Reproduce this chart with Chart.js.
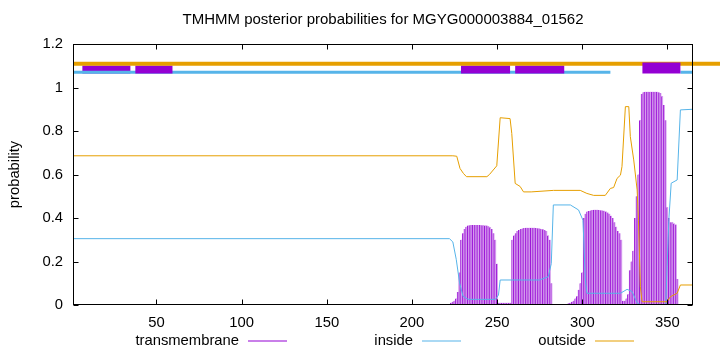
<!DOCTYPE html>
<html>
<head>
<meta charset="utf-8">
<style>
  html, body { margin: 0; padding: 0; background: #fff; }
  #wrap { width: 720px; height: 352px; }
</style>
<script src="https://cdn.jsdelivr.net/npm/chart.js@4.4.1/dist/chart.umd.min.js"></script>
</head>
<body>
<div id="wrap"><canvas id="tmChart" width="720" height="352"></canvas></div>
<script>
const TITLE = 'TMHMM posterior probabilities for MGYG000003884_01562';
const X_TICKS = [50, 100, 150, 200, 250, 300, 350];
const Y_TICKS = [0, 0.2, 0.4, 0.6, 0.8, 1, 1.2];

// transmembrane posterior, one value per residue starting at TM_FIRST
const TM_FIRST = 222;
const TM_PROB = [
  0.005, 0.01, 0.015, 0.02, 0.03, 0.06, 0.15, 0.30, 0.33, 0.35,
  0.36, 0.365, 0.367, 0.368, 0.368, 0.368, 0.368, 0.368, 0.368, 0.367,
  0.367, 0.366, 0.365, 0.362, 0.358, 0.35, 0.33, 0.30, 0.19, 0.01,
  0.01, 0.01, 0.01, 0.01, 0.01, 0.01, 0.01, 0.30, 0.32, 0.33,
  0.34, 0.345, 0.35, 0.352, 0.354, 0.355, 0.355, 0.355, 0.355, 0.355,
  0.355, 0.354, 0.353, 0.352, 0.35, 0.348, 0.345, 0.34, 0.32, 0.30,
  0.10, 0.005, 0.005, 0.005, 0.005, 0.005, 0.005, 0.005, 0.005, 0.005,
  0.008, 0.01, 0.015, 0.02, 0.03, 0.04, 0.07, 0.10, 0.15, 0.40,
  0.42, 0.43, 0.432, 0.435, 0.437, 0.438, 0.438, 0.438, 0.437, 0.436,
  0.435, 0.433, 0.43, 0.425, 0.42, 0.41, 0.40, 0.38, 0.36, 0.34,
  0.33, 0.30, 0.02, 0.02, 0.03, 0.05, 0.16, 0.20, 0.25, 0.40,
  0.50, 0.60, 0.85, 0.97, 0.978, 0.98, 0.98, 0.98, 0.98, 0.98,
  0.98, 0.98, 0.98, 0.978, 0.975, 0.96, 0.92, 0.85, 0.45, 0.40,
  0.38, 0.38, 0.375, 0.37, 0.12
];

const INSIDE_X = [1, 222, 224, 226, 228, 230, 233, 249, 250.8, 251.8, 275, 280, 281.8, 283, 293, 297.8, 300.4, 301.8, 302.7, 322.4, 326.3, 329.2, 332.2, 334, 349, 349.8, 350.8, 352.2, 355.7, 357.6, 365];
const INSIDE_P = [0.305, 0.305, 0.29, 0.21, 0.10, 0.04, 0.026, 0.026, 0.046, 0.115, 0.115, 0.13, 0.19, 0.46, 0.46, 0.437, 0.39, 0.115, 0.054, 0.054, 0.072, 0.062, 0.01, 0.002, 0.002, 0.176, 0.39, 0.56, 0.575, 0.897, 0.9];

const OUTSIDE_X = [1, 224, 226.3, 228.2, 230.2, 232, 244, 245.5, 249.8, 251.8, 257.6, 258.6, 260.6, 263.5, 265.5, 270, 283.1, 298.8, 302.7, 306.7, 313.5, 316.5, 318.4, 320.4, 322.4, 323.3, 325.3, 327.3, 328.2, 330.2, 332.2, 333, 334.1, 335.1, 349.8, 351.7, 355.7, 357.6, 365];
const OUTSIDE_P = [0.686, 0.686, 0.684, 0.628, 0.605, 0.59, 0.59, 0.60, 0.64, 0.861, 0.857, 0.789, 0.559, 0.545, 0.52, 0.52, 0.527, 0.527, 0.513, 0.504, 0.504, 0.536, 0.54, 0.582, 0.597, 0.636, 0.912, 0.912, 0.774, 0.667, 0.529, 0.39, 0.084, 0.015, 0.015, 0.038, 0.054, 0.092, 0.092];

// predicted topology strip above the curves
const OUT_SEGMENTS = [[1, 381]];
const IN_SEGMENTS = [[1, 316.5], [357.6, 365]];
const TM_SEGMENTS = [[6.5, 34.7], [37.6, 59.4], [228.8, 257.6], [260.6, 289.4], [335.3, 357.6]];
const OUT_LEVEL = 1.109;
const IN_LEVEL = 1.07;
const TM_LEVELS = [1.0825, 1.0825, 1.0825, 1.0825, 1.0895];

const PURPLE = '#9400d3';
const PURPLE_LIGHT = '#d7a3ef';
const BLUE = '#56b4e9';
const ORANGE = '#e69f00';
const FONT = 'Liberation Sans, Arial, sans-serif';
const FSIZE = 14.8;

function segPoints(segs, level) {
  const pts = [];
  segs.forEach((s, i) => {
    if (i > 0) pts.push({ x: (segs[i - 1][1] + s[0]) / 2, y: null });
    pts.push({ x: s[0], y: level }, { x: s[1], y: level });
  });
  return pts;
}

function curve(xs, ps) {
  return xs.map((x, i) => ({ x: x, y: ps[i] }));
}

function strip(data, color, width, order, clip) {
  return {
    type: 'line', data, borderColor: color, borderWidth: width,
    borderCapStyle: 'butt', pointRadius: 0, tension: 0, spanGaps: false,
    order, clip: clip === undefined ? undefined : clip
  };
}

const tmBars = TM_PROB.map((p, i) => ({ x: TM_FIRST + i, y: p }));

const datasets = [
  strip(segPoints([TM_SEGMENTS[4]], TM_LEVELS[4]), PURPLE, 11, 0),
  strip(segPoints(OUT_SEGMENTS, OUT_LEVEL), ORANGE, 4, 1, false),
  strip(segPoints(TM_SEGMENTS.slice(1, 4), TM_LEVELS[1]), PURPLE, 8, 2),
  strip(segPoints(IN_SEGMENTS, IN_LEVEL), BLUE, 3, 3),
  strip(segPoints([TM_SEGMENTS[0]], TM_LEVELS[0]), PURPLE, 8, 4),
  { type: 'line', label: 'outside', data: curve(OUTSIDE_X, OUTSIDE_P), borderColor: ORANGE, borderWidth: 1, pointRadius: 0, tension: 0, order: 5 },
  { type: 'line', label: 'inside', data: curve(INSIDE_X, INSIDE_P), borderColor: BLUE, borderWidth: 1, pointRadius: 0, tension: 0, order: 6 },
  {
    type: 'bar', label: 'transmembrane', data: tmBars,
    backgroundColor: PURPLE_LIGHT, borderColor: PURPLE,
    borderWidth: { left: 1, right: 0, top: 0, bottom: 0 }, borderSkipped: false,
    barThickness: 1.7, order: 7
  }
];

const LEGEND = [
  { text: 'transmembrane', color: PURPLE, end: 239 },
  { text: 'inside', color: BLUE, end: 413 },
  { text: 'outside', color: ORANGE, end: 586 }
];

const gnuplotLook = {
  id: 'gnuplotLook',
  afterDatasetsDraw(chart) {
    const { ctx, chartArea: a, scales } = chart;
    ctx.save();
    ctx.strokeStyle = '#000';
    ctx.lineWidth = 1;
    const l = Math.round(a.left) + 0.5, r = Math.round(a.right) - 0.5;
    const t = Math.round(a.top) + 0.5, b = Math.round(a.bottom) - 0.5;
    ctx.strokeRect(l, t, r - l, b - t);
    ctx.beginPath();
    X_TICKS.forEach(v => {
      const px = Math.round(scales.x.getPixelForValue(v)) + 0.5;
      ctx.moveTo(px, b); ctx.lineTo(px, b - 5);
      ctx.moveTo(px, t); ctx.lineTo(px, t + 5);
    });
    Y_TICKS.forEach(v => {
      const py = Math.round(scales.y.getPixelForValue(v)) + 0.5;
      ctx.moveTo(l, py); ctx.lineTo(l + 5, py);
      ctx.moveTo(r, py); ctx.lineTo(r - 5, py);
    });
    ctx.stroke();
    ctx.restore();
  },
  afterDraw(chart) {
    const { ctx, chartArea: a } = chart;
    ctx.save();
    ctx.fillStyle = '#000';
    ctx.textBaseline = 'middle';
    ctx.textAlign = 'center';
    ctx.font = '15px ' + FONT;
    ctx.fillText(TITLE, (a.left + a.right) / 2, 20);
    ctx.font = FSIZE + 'px ' + FONT;
    ctx.textAlign = 'right';
    LEGEND.forEach(item => {
      ctx.fillText(item.text, item.end, 341);
      ctx.strokeStyle = item.color;
      ctx.lineWidth = 1.2;
      ctx.beginPath();
      ctx.moveTo(item.end + 9, 341);
      ctx.lineTo(item.end + 48, 341);
      ctx.stroke();
    });
    ctx.restore();
  }
};

new Chart(document.getElementById('tmChart'), {
  type: 'line',
  data: { datasets },
  plugins: [gnuplotLook],
  options: {
    responsive: false,
    animation: false,
    layout: { padding: { top: 44, right: 27, left: 0, bottom: 0 } },
    plugins: { legend: { display: false }, tooltip: { enabled: false }, title: { display: false } },
    scales: {
      x: {
        type: 'linear', min: 1, max: 365, offset: false,
        grid: { display: false, drawTicks: false },
        border: { display: false },
        afterBuildTicks: s => { s.ticks = X_TICKS.map(v => ({ value: v })); },
        afterFit: s => { s.height = 47; },
        ticks: { color: '#000', padding: 9, maxRotation: 0, font: { family: FONT, size: FSIZE } }
      },
      y: {
        min: 0, max: 1.2,
        grid: { display: false, drawTicks: false },
        border: { display: false },
        afterBuildTicks: s => { s.ticks = Y_TICKS.map(v => ({ value: v })); },
        afterFit: s => { s.width = 73; },
        ticks: { color: '#000', padding: 10, font: { family: FONT, size: FSIZE }, callback: v => String(v) },
        title: { display: true, text: 'probability', color: '#000', padding: { top: 6, bottom: 0 }, font: { family: FONT, size: FSIZE } }
      }
    }
  }
});
</script>
</body>
</html>
